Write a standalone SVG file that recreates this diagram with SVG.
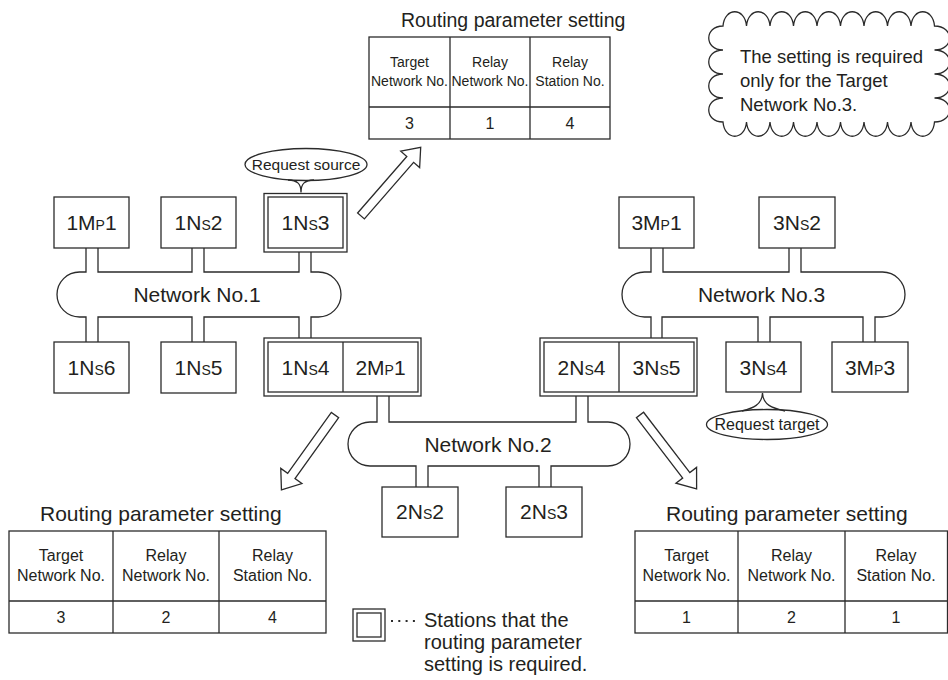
<svg xmlns="http://www.w3.org/2000/svg" width="948" height="680" viewBox="0 0 948 680">
<style>
text{font-family:"Liberation Sans",Arial,sans-serif;fill:#231f20}
.box{fill:#fff;stroke:#2b2b2b;stroke-width:1.3}
.ln{fill:none;stroke:#2b2b2b;stroke-width:1.3}
.lbl{font-size:21px;text-anchor:middle}
.s{font-size:14px}
.net{font-size:21px;text-anchor:middle}
.th{font-size:14px;text-anchor:middle}
.thb{font-size:16px;text-anchor:middle}
.tv{font-size:16px;text-anchor:middle}
.ttl{font-size:21px}
.arr{fill:#fff;stroke:#2b2b2b;stroke-width:1.3;stroke-linejoin:miter}
</style>

<g id="connectors">
<path class="ln" d="M 98 248 V 272 H 192 V 248 M 204 248 V 272 H 299 V 252 M 311 252 V 272 H 318.5 A 22.5 22.5 0 0 1 318.5 317 H 311 V 338 M 299 338 V 317 H 204 V 342 M 192 342 V 317 H 98 V 342 M 86 342 V 317 H 79.5 A 22.5 22.5 0 0 1 79.5 272 H 86 V 248"/>
<path class="ln" d="M 389 396 V 422 H 576 V 396 M 588 396 V 422 H 608 A 22 22 0 0 1 608 466 H 551 V 487 M 539 487 V 466 H 428 V 487 M 416 487 V 466 H 370 A 22 22 0 0 1 370 422 H 377 V 396"/>
<path class="ln" d="M 663 248 V 272 H 789 V 248 M 801 248 V 272 H 882.5 A 22.5 22.5 0 0 1 882.5 317 H 875 V 342 M 863 342 V 317 H 770 V 342 M 758 342 V 317 H 662 V 338 M 651 338 V 317 H 644.5 A 22.5 22.5 0 0 1 644.5 272 H 651 V 248"/>
<polygon class="arr" transform="translate(361,216) rotate(-49)" points="0,-4.5 75,-4.5 75,-12.5 91,0 75,12.5 75,4.5 0,4.5"/>
<polygon class="arr" transform="translate(335,415) rotate(125.6)" points="0,-4.5 75,-4.5 75,-13 92,0 75,13 75,4.5 0,4.5"/>
<polygon class="arr" transform="translate(640,415) rotate(52.5)" points="0,-4.5 76,-4.5 76,-13 93,0 76,13 76,4.5 0,4.5"/>
</g>

<g id="network1-label"><text class="net" x="197" y="302">Network No.1</text></g>
<g id="network2-label"><text class="net" x="488" y="452">Network No.2</text></g>
<g id="network3-label"><text class="net" x="761.5" y="302">Network No.3</text></g>

<g id="n1MP1"><rect class="box" x="54" y="197" width="75" height="51"/><text class="lbl" x="91.5" y="230">1M<tspan class="s">P</tspan>1</text></g>
<g id="n1NS2"><rect class="box" x="161" y="197" width="75" height="51"/><text class="lbl" x="198.5" y="230">1N<tspan class="s">S</tspan>2</text></g>
<g id="n1NS3"><rect class="box" x="264" y="193.5" width="83" height="58.5"/><rect class="box" x="268" y="197" width="75" height="51"/><text class="lbl" x="305.5" y="230">1N<tspan class="s">S</tspan>3</text></g>
<g id="n1NS6"><rect class="box" x="54" y="342" width="75" height="51"/><text class="lbl" x="91.5" y="375">1N<tspan class="s">S</tspan>6</text></g>
<g id="n1NS5"><rect class="box" x="161" y="342" width="75" height="51"/><text class="lbl" x="198.5" y="375">1N<tspan class="s">S</tspan>5</text></g>
<g id="n1NS4-2MP1"><rect class="box" x="264" y="338" width="157" height="58"/><rect class="box" x="268" y="342" width="150" height="50"/><line class="ln" x1="343" y1="342" x2="343" y2="392"/><text class="lbl" x="305.5" y="375">1N<tspan class="s">S</tspan>4</text><text class="lbl" x="380.5" y="375">2M<tspan class="s">P</tspan>1</text></g>
<g id="n2NS4-3NS5"><rect class="box" x="540" y="338" width="157" height="58"/><rect class="box" x="544" y="342" width="150" height="50"/><line class="ln" x1="619" y1="342" x2="619" y2="392"/><text class="lbl" x="581.5" y="375">2N<tspan class="s">S</tspan>4</text><text class="lbl" x="656.5" y="375">3N<tspan class="s">S</tspan>5</text></g>
<g id="n3NS4"><rect class="box" x="726" y="342" width="75" height="50"/><text class="lbl" x="763.5" y="375">3N<tspan class="s">S</tspan>4</text></g>
<g id="n3MP3"><rect class="box" x="832" y="342" width="76" height="50"/><text class="lbl" x="870" y="375">3M<tspan class="s">P</tspan>3</text></g>
<g id="n3MP1"><rect class="box" x="619" y="197" width="75" height="51"/><text class="lbl" x="656.5" y="230">3M<tspan class="s">P</tspan>1</text></g>
<g id="n3NS2"><rect class="box" x="759" y="197" width="76" height="51"/><text class="lbl" x="797" y="230">3N<tspan class="s">S</tspan>2</text></g>
<g id="n2NS2"><rect class="box" x="382" y="487" width="76" height="50"/><text class="lbl" x="420" y="519">2N<tspan class="s">S</tspan>2</text></g>
<g id="n2NS3"><rect class="box" x="506" y="487" width="76" height="50"/><text class="lbl" x="544" y="519">2N<tspan class="s">S</tspan>3</text></g>

<g id="request-source">
<ellipse class="box" cx="306" cy="164.5" rx="61" ry="16"/>
<path class="ln" d="M 288 180 C 297 180.5 301 183 301 192.5 C 301 183 305 180.5 314 180"/>
<text x="306" y="170" style="font-size:15.5px;text-anchor:middle">Request source</text>
</g>
<g id="request-target">
<ellipse class="box" cx="767" cy="424.5" rx="60.5" ry="15"/>
<path class="ln" d="M 742 411 C 753 408 762 405 762.5 393 C 763 405 772 408 785 411"/>
<text x="767" y="430" style="font-size:16px;text-anchor:middle">Request target</text>
</g>

<g id="note-cloud">
<path class="box" d="M 723 26 c 1.5 -19 22 -19 23.5 0 c 1.5 -19 22 -19 23.5 0 c 1.5 -19 22 -19 23.5 0 c 1.5 -19 22 -19 23.5 0 c 1.5 -19 22 -19 23.5 0 c 1.5 -19 22 -19 23.5 0 c 1.5 -19 22 -19 23.5 0 c 1.5 -19 22 -19 23.5 0 c 1.5 -19 22 -19 23.5 0 c 20 0 20 24 0 24 c 20 0 20 24 0 24 c 20 0 20 24 0 24 c 20 0 20 24 0 24 c -1.5 19 -22 19 -23.5 0 c -1.5 19 -22 19 -23.5 0 c -1.5 19 -22 19 -23.5 0 c -1.5 19 -22 19 -23.5 0 c -1.5 19 -22 19 -23.5 0 c -1.5 19 -22 19 -23.5 0 c -1.5 19 -22 19 -23.5 0 c -1.5 19 -22 19 -23.5 0 c -1.5 19 -22 19 -23.5 0 c -19 0 -19 -24 0 -24 c -19 0 -19 -24 0 -24 c -19 0 -19 -24 0 -24 c -19 0 -19 -24 0 -24 Z"/>
<text x="740" y="63" style="font-size:18.5px">The setting is required</text>
<text x="740" y="87" style="font-size:18.5px">only for the Target</text>
<text x="740" y="111" style="font-size:18.5px">Network No.3.</text>
</g>

<g id="table-top">
<text class="ttl" x="401" y="27" style="font-size:19.5px">Routing parameter setting</text>
<rect class="box" x="369" y="37" width="241" height="102"/>
<path class="ln" d="M 369 107 H 610 M 450 37 V 139 M 530 37 V 139"/>
<text class="th" x="409.5" y="67">Target</text><text class="th" x="409.5" y="86">Network No.</text>
<text class="th" x="490" y="67">Relay</text><text class="th" x="490" y="86">Network No.</text>
<text class="th" x="570" y="67">Relay</text><text class="th" x="570" y="86">Station No.</text>
<text class="tv" x="409.5" y="129">3</text><text class="tv" x="490" y="129">1</text><text class="tv" x="570" y="129">4</text>
</g>

<g id="table-left">
<text class="ttl" x="40" y="521">Routing parameter setting</text>
<rect class="box" x="9" y="531" width="317" height="102"/>
<path class="ln" d="M 9 601 H 326 M 113 531 V 633 M 219 531 V 633"/>
<text class="thb" x="61" y="561">Target</text><text class="thb" x="61" y="581">Network No.</text>
<text class="thb" x="166" y="561">Relay</text><text class="thb" x="166" y="581">Network No.</text>
<text class="thb" x="272.5" y="561">Relay</text><text class="thb" x="272.5" y="581">Station No.</text>
<text class="tv" x="61" y="623">3</text><text class="tv" x="166" y="623">2</text><text class="tv" x="272.5" y="623">4</text>
</g>

<g id="table-right">
<text class="ttl" x="666" y="521">Routing parameter setting</text>
<rect class="box" x="635" y="531" width="312.5" height="102"/>
<path class="ln" d="M 635 601 H 947.5 M 738 531 V 633 M 845 531 V 633"/>
<text class="thb" x="686.5" y="561">Target</text><text class="thb" x="686.5" y="581">Network No.</text>
<text class="thb" x="791.5" y="561">Relay</text><text class="thb" x="791.5" y="581">Network No.</text>
<text class="thb" x="896" y="561">Relay</text><text class="thb" x="896" y="581">Station No.</text>
<text class="tv" x="686.5" y="623">1</text><text class="tv" x="791.5" y="623">2</text><text class="tv" x="896" y="623">1</text>
</g>

<g id="legend">
<rect class="box" x="353" y="609" width="32" height="32"/>
<rect class="box" x="357" y="613" width="24" height="24"/>
<line x1="391" y1="621" x2="418" y2="621" style="stroke:#2b2b2b;stroke-width:2;stroke-dasharray:2 5.3"/>
<text x="424" y="627" style="font-size:20px">Stations that the</text>
<text x="424" y="649" style="font-size:20px">routing parameter</text>
<text x="424" y="671" style="font-size:20px">setting is required.</text>
</g>
</svg>
